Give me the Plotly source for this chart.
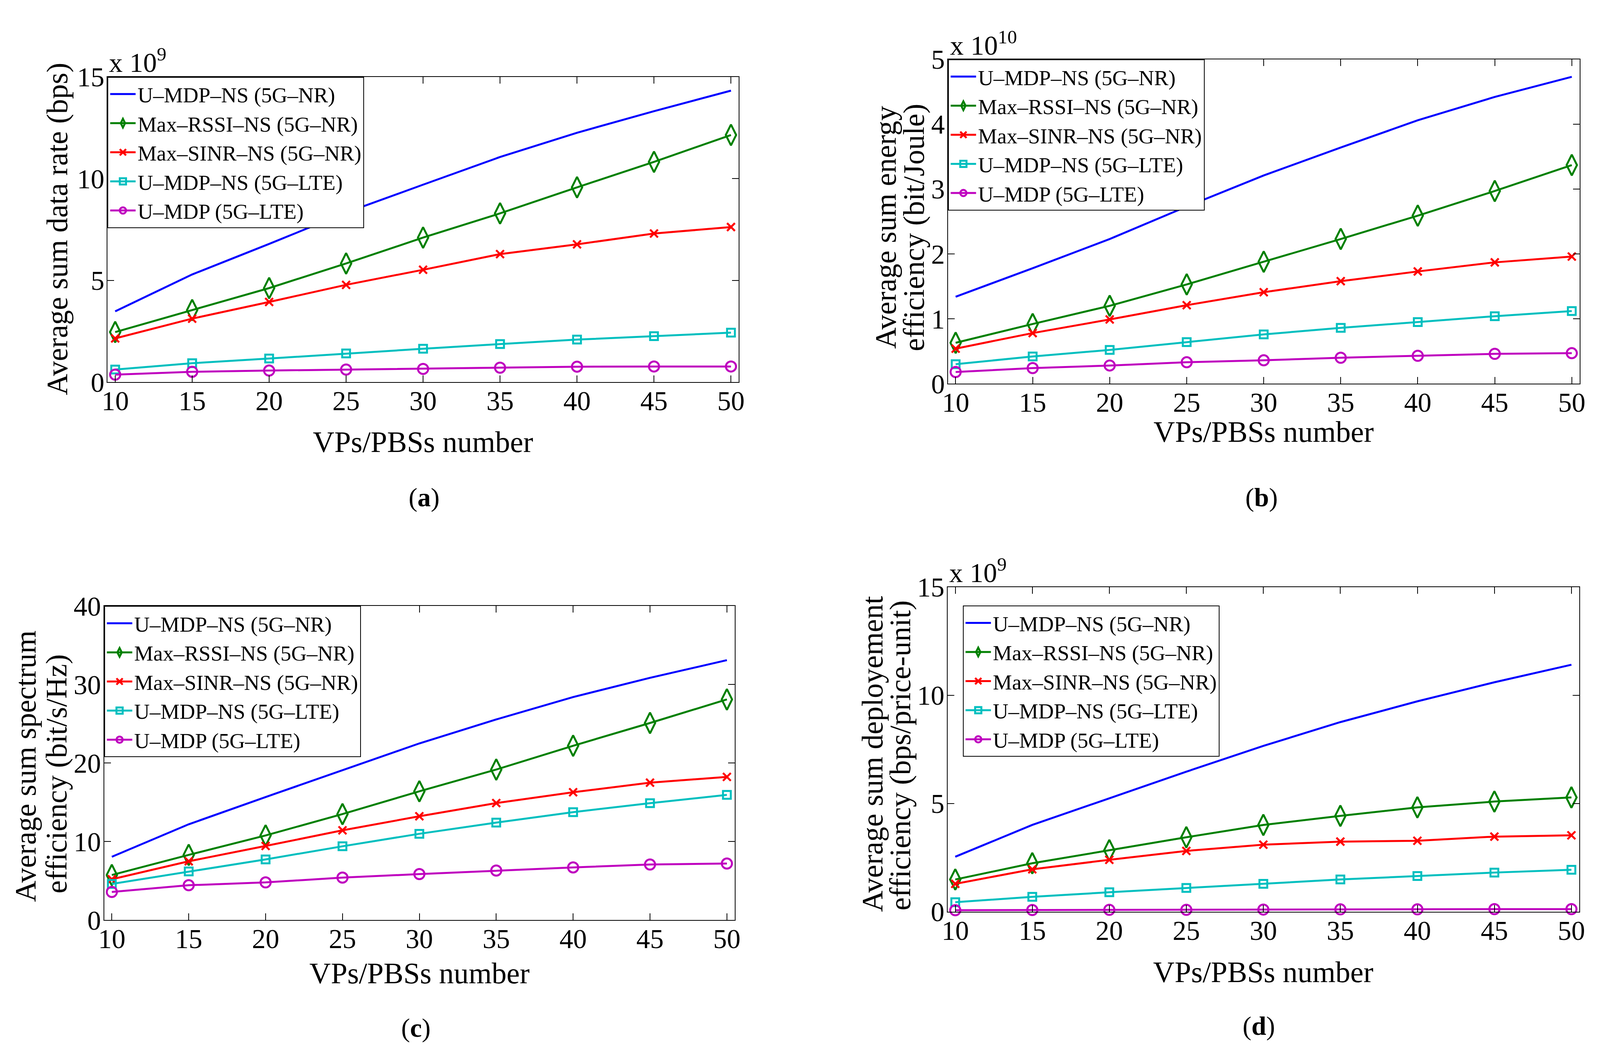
import plotly.graph_objects as go

# ---------------- data ----------------
vp_counts = [10, 15, 20, 25, 30, 35, 40, 45, 50]
x_tick_vals = [10, 15, 20, 25, 30, 35, 40, 45, 50]
series_names = ["U–MDP–NS (5G–NR)", "Max–RSSI–NS (5G–NR)", "Max–SINR–NS (5G–NR)",
                "U–MDP–NS (5G–LTE)", "U–MDP (5G–LTE)"]

# (a) Average sum data rate, units of 1e9 bps
rate_umdpns_nr = [3.48, 5.29, 6.79, 8.33, 9.70, 11.06, 12.25, 13.31, 14.32]
rate_rssi_nr = [2.46, 3.54, 4.62, 5.83, 7.10, 8.29, 9.57, 10.82, 12.14]
rate_sinr_nr = [2.15, 3.12, 3.94, 4.78, 5.52, 6.29, 6.77, 7.30, 7.62]
rate_umdpns_lte = [0.62, 0.93, 1.16, 1.41, 1.64, 1.87, 2.09, 2.26, 2.43]
rate_umdp_lte = [0.37, 0.51, 0.57, 0.62, 0.65, 0.71, 0.76, 0.77, 0.77]

# (b) Average sum energy efficiency, units of 1e10 bit/Joule
ee_umdpns_nr = [1.34, 1.78, 2.23, 2.73, 3.21, 3.64, 4.06, 4.42, 4.73]
ee_rssi_nr = [0.63, 0.92, 1.20, 1.53, 1.88, 2.23, 2.59, 2.97, 3.37]
ee_sinr_nr = [0.54, 0.78, 0.99, 1.21, 1.41, 1.58, 1.73, 1.87, 1.96]
ee_umdpns_lte = [0.30, 0.42, 0.52, 0.64, 0.76, 0.86, 0.95, 1.04, 1.12]
ee_umdp_lte = [0.18, 0.24, 0.28, 0.33, 0.36, 0.40, 0.43, 0.46, 0.47]

# (c) Average sum spectrum efficiency, bit/s/Hz
se_umdpns_nr = [8.06, 12.2, 15.67, 19.1, 22.5, 25.55, 28.4, 30.85, 33.1]
se_rssi_nr = [5.74, 8.3, 10.78, 13.5, 16.4, 19.17, 22.2, 25.1, 28.1]
se_sinr_nr = [5.2, 7.49, 9.44, 11.43, 13.22, 14.9, 16.28, 17.5, 18.23]
se_umdpns_lte = [4.6, 6.19, 7.73, 9.4, 10.99, 12.41, 13.75, 14.89, 15.95]
se_umdp_lte = [3.58, 4.44, 4.80, 5.41, 5.86, 6.31, 6.71, 7.08, 7.2]

# (d) Average sum deployment efficiency, units of 1e9 bps/price-unit
de_umdpns_nr = [2.54, 4.01, 5.24, 6.47, 7.66, 8.76, 9.72, 10.6, 11.41]
de_rssi_nr = [1.49, 2.24, 2.84, 3.44, 4.01, 4.43, 4.82, 5.09, 5.28]
de_sinr_nr = [1.29, 1.96, 2.40, 2.81, 3.10, 3.24, 3.28, 3.47, 3.53]
de_umdpns_lte = [0.44, 0.69, 0.90, 1.10, 1.29, 1.49, 1.65, 1.81, 1.94]
de_umdp_lte = [0.07, 0.08, 0.09, 0.09, 0.10, 0.11, 0.11, 0.12, 0.12]

# ---------------- styling / layout ----------------
W, H = 4272, 2716          # reference size (px)
OFF = 8                    # default body margin of the page
FW, FH = W - 2 * OFF, H - 2 * OFF
SERIF = "Liberation Serif"
colors = ["#0000FF", "#008000", "#FF0000", "#00BFBF", "#BF00BF"]
symbols = [None, "diamond-tall-open", "x-thin-open", "square-open", "circle-open"]
msizes = [0, 38, 20, 20, 26]


def px(x):
    return (x - OFF) / FW


def py(y):
    return 1 - (y - OFF) / FH


panels = [
    dict(series=[rate_umdpns_nr, rate_rssi_nr, rate_sinr_nr, rate_umdpns_lte, rate_umdp_lte],
         box=(273, 1971, 163, 968), yrange=[0, 15], dtick=5,
         leg=(273, 163), exp="x 10<sup>9</sup>", exp_pos=(275, 168),
         ytitle=[("Average sum data rate (bps)", 138, 564)],
         xtitle_y=1125, cap="(<b>a</b>)", cap_pos=(1125, 1272)),
    dict(series=[ee_umdpns_nr, ee_rssi_nr, ee_sinr_nr, ee_umdpns_lte, ee_umdp_lte],
         box=(2534, 4233, 117, 972), yrange=[0, 5], dtick=1,
         leg=(2534, 117), exp="x 10<sup>10</sup>", exp_pos=(2537, 122),
         ytitle=[("Average sum energy", 2366, 560), ("efficiency (bit/Joule)", 2442, 560)],
         xtitle_y=1099, cap="(<b>b</b>)", cap_pos=(3378, 1272)),
    dict(series=[se_umdpns_nr, se_rssi_nr, se_sinr_nr, se_umdpns_lte, se_umdp_lte],
         box=(264, 1960, 1558, 2386), yrange=[0, 40], dtick=10,
         leg=(264, 1558), exp=None, exp_pos=None,
         ytitle=[("Average sum spectrum", 52, 1980), ("efficiency (bit/s/Hz)", 136, 2000)],
         xtitle_y=2526, cap="(<b>c</b>)", cap_pos=(1103, 2670)),
    dict(series=[de_umdpns_nr, de_rssi_nr, de_sinr_nr, de_umdpns_lte, de_umdp_lte],
         box=(2533, 4232, 1508, 2364), yrange=[0, 15], dtick=5,
         leg=(2574, 1557), exp="x 10<sup>9</sup>", exp_pos=(2535, 1512),
         ytitle=[("Average sum deployement", 2330, 1948), ("efficiency (bps/price-unit)", 2406, 1952)],
         xtitle_y=2523, cap="(<b>d</b>)", cap_pos=(3370, 2665)),
]

fig = go.Figure()
layout = dict(autosize=True,
              margin=dict(l=0, r=0, t=0, b=0, pad=0),
              paper_bgcolor="white", plot_bgcolor="white",
              font=dict(family=SERIF, color="black"))
annotations = []

for i, p in enumerate(panels):
    n = "" if i == 0 else str(i + 1)
    leg_name = "legend" + n
    for j, (name, vals) in enumerate(zip(series_names, p["series"])):
        mode = "lines" if symbols[j] is None else "lines+markers"
        marker = None
        if symbols[j] is not None:
            marker = dict(symbol=symbols[j], size=msizes[j], color=colors[j],
                          line=dict(color=colors[j], width=5))
        fig.add_trace(go.Scatter(
            x=vp_counts, y=vals, name=name, mode=mode,
            line=dict(color=colors[j], width=5),
            marker=marker, xaxis="x" + n, yaxis="y" + n,
            legend=leg_name, showlegend=True, cliponaxis=False))

    x0, x1, y0, y1 = p["box"]
    ax_common = dict(showline=True, linecolor="black", linewidth=2, mirror="ticks",
                     ticks="inside", ticklen=17, tickwidth=2, tickcolor="black",
                     showgrid=False, zeroline=False,
                     tickfont=dict(family=SERIF, size=70, color="black"))
    layout["xaxis" + n] = dict(ax_common, domain=[px(x0), px(x1)], range=[9.5, 50.5],
                               tickvals=x_tick_vals, anchor="y" + n,
                               ticklabelstandoff=-14)
    layout["yaxis" + n] = dict(ax_common, domain=[py(y1), py(y0)], range=p["yrange"],
                               dtick=p["dtick"], tick0=0, anchor="x" + n,
                               ticklabelstandoff=-8)
    lx, ly = p["leg"]
    layout[leg_name] = dict(x=px(lx), y=py(ly), xanchor="left", yanchor="top",
                            xref="paper", yref="paper",
                            bgcolor="white", bordercolor="black", borderwidth=2,
                            font=dict(family=SERIF, size=55, color="black"),
                            itemwidth=65, tracegroupgap=0)

    if p["exp"]:
        ex, ey = p["exp_pos"]
        annotations.append(dict(text=p["exp"], x=px(ex), y=py(ey), xref="paper", yref="paper",
                                xanchor="left", yanchor="bottom", showarrow=False,
                                font=dict(family=SERIF, size=70, color="black")))
    for (t, tx, ty) in p["ytitle"]:
        annotations.append(dict(text=t, x=px(tx), y=py(ty), xref="paper", yref="paper",
                                xanchor="center", yanchor="middle", textangle=-90,
                                showarrow=False,
                                font=dict(family=SERIF, size=76, color="black")))
    annotations.append(dict(text="VPs/PBSs number", x=px((x0 + x1) / 2), y=py(p["xtitle_y"]),
                            xref="paper", yref="paper", xanchor="center", yanchor="middle",
                            showarrow=False, font=dict(family=SERIF, size=76, color="black")))
    cx, cy = p["cap_pos"]
    annotations.append(dict(text=p["cap"], x=px(cx), y=py(cy), xref="paper", yref="paper",
                            xanchor="center", yanchor="middle", showarrow=False,
                            font=dict(family=SERIF, size=68, color="black")))

layout["annotations"] = annotations
fig.update_layout(**layout)
# the figure fills the browser window (minus the page's default 8px body margin)
fig.write_html("out.html", default_width="100%", default_height="calc(100vh - 16px)")
